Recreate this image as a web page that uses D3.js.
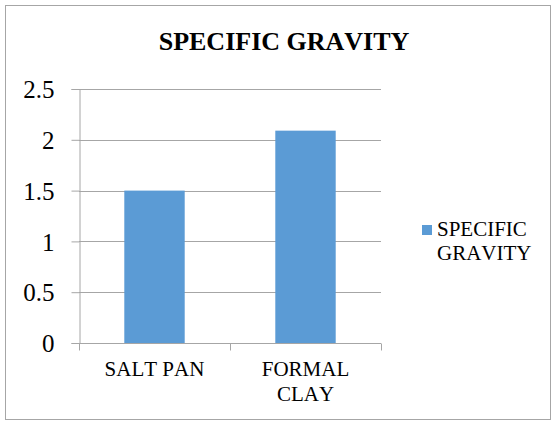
<!DOCTYPE html>
<html>
<head>
<meta charset="utf-8">
<script src="https://cdn.jsdelivr.net/npm/d3@7"></script>
<style>
  html, body { margin: 0; padding: 0; background: #fff; }
  svg { display: block; font-kerning: none; }
</style>
</head>
<body>
<div id="chart"></div>
<script>
// Specific gravity of the two soil samples
const categories = [["SALT PAN"], ["FORMAL", "CLAY"]];
const categoryKeys = ["SALT PAN", "FORMAL CLAY"];
const gravityValues = [1.5, 2.09];
const yTicks = [0, 0.5, 1, 1.5, 2, 2.5];
const seriesName = ["SPECIFIC", "GRAVITY"];
const chartTitle = "SPECIFIC GRAVITY";

const W = 555, H = 421;
const plot = { left: 79, right: 381, top: 89, bottom: 343 };
const SERIF = "'Liberation Serif'";

const svg = d3.select("#chart").append("svg")
  .attr("width", W).attr("height", H);

// outer frame
svg.append("rect")
  .attr("x", 5.5).attr("y", 5.5)
  .attr("width", 545).attr("height", 414)
  .attr("fill", "#fff").attr("stroke", "#a6a6a6").attr("stroke-width", 1);

// title
svg.append("text")
  .attr("x", 284).attr("y", 50)
  .attr("text-anchor", "middle")
  .style("font-family", SERIF)
  .style("font-size", "26px").style("font-weight", "bold")
  .style("font-kerning", "none")
  .attr("fill", "#000")
  .text(chartTitle);

const x = d3.scaleBand()
  .domain(categoryKeys)
  .range([plot.left, plot.right])
  .paddingInner(0.6).paddingOuter(0.3);

const y = d3.scaleLinear()
  .domain([0, 2.5])
  .range([plot.bottom, plot.top]);

// horizontal gridlines
svg.append("g")
  .selectAll("line")
  .data(yTicks.filter(d => d > 0))
  .join("line")
  .attr("x1", plot.left).attr("x2", plot.right)
  .attr("y1", d => Math.round(y(d)) + 0.5).attr("y2", d => Math.round(y(d)) + 0.5)
  .attr("stroke", "#a6a6a6").attr("stroke-width", 1);

// bars
svg.append("g")
  .selectAll("rect")
  .data(gravityValues)
  .join("rect")
  .attr("x", (d, i) => x(categoryKeys[i]))
  .attr("width", x.bandwidth())
  .attr("y", d => y(d))
  .attr("height", d => y(0) - y(d))
  .attr("fill", "#5b9bd5");

// y axis
const yAxis = svg.append("g")
  .attr("transform", `translate(${plot.left + 0.5},0)`)
  .call(d3.axisLeft(y).tickValues(yTicks).tickSize(8).tickPadding(17)
    .tickFormat(d => String(d)));
yAxis.attr("font-family", null).attr("font-size", null);
yAxis.select(".domain").attr("stroke", "#a6a6a6");
yAxis.selectAll(".tick line").attr("stroke", "#a6a6a6");
yAxis.selectAll(".tick text")
  .style("font-family", SERIF)
  .style("font-size", "25px")
  .attr("fill", "#000")
  .attr("dy", "0.35em");

// x axis with boundary ticks between categories
const xAxis = svg.append("g")
  .attr("transform", `translate(0,${plot.bottom + 0.5})`);
xAxis.append("line")
  .attr("x1", plot.left).attr("x2", plot.right)
  .attr("stroke", "#a6a6a6");
const bounds = [plot.left, ...categoryKeys.slice(1).map(k => x(k) - x.step() * x.paddingInner() / 2), plot.right];
xAxis.selectAll("line.tk")
  .data(bounds)
  .join("line")
  .attr("class", "tk")
  .attr("x1", d => Math.round(d) + 0.5).attr("x2", d => Math.round(d) + 0.5)
  .attr("y1", 0).attr("y2", 7)
  .attr("stroke", "#a6a6a6");

const labels = xAxis.selectAll("text.cat")
  .data(categories)
  .join("text")
  .attr("class", "cat")
  .attr("text-anchor", "middle")
  .attr("x", (d, i) => x(categoryKeys[i]) + x.bandwidth() / 2)
  .attr("y", 32)
  .attr("fill", "#000")
  .style("font-family", SERIF)
  .style("font-size", "21px")
  .style("font-kerning", "none");
labels.selectAll("tspan")
  .data(d => d)
  .join("tspan")
  .attr("x", function () { return d3.select(this.parentNode).attr("x"); })
  .attr("dy", (d, i) => i === 0 ? 0 : 25)
  .text(d => d);

// legend
const legend = svg.append("g");
legend.append("rect")
  .attr("x", 422).attr("y", 225)
  .attr("width", 10).attr("height", 10)
  .attr("fill", "#5b9bd5");
legend.append("text")
  .attr("x", 437).attr("y", 236)
  .attr("fill", "#000")
  .style("font-family", SERIF)
  .style("font-size", "21px")
  .style("font-kerning", "none")
  .selectAll("tspan")
  .data(seriesName)
  .join("tspan")
  .attr("x", 437)
  .attr("dy", (d, i) => i === 0 ? 0 : 24)
  .text(d => d);
</script>
</body>
</html>
